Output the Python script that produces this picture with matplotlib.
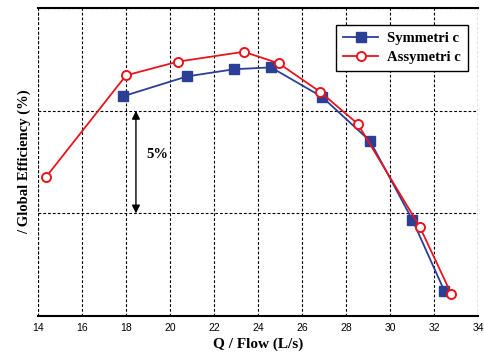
import matplotlib
matplotlib.use("Agg")
import matplotlib.pyplot as plt

# Flow (L/s) and global efficiency (%) for both impeller designs
sym_flow = [17.84, 20.75, 22.90, 24.57, 26.89, 29.07, 31.00, 32.45]
sym_eff = [70.71, 71.68, 72.03, 72.12, 70.68, 68.53, 64.68, 61.22]

asym_flow = [14.34, 17.98, 20.34, 23.33, 24.92, 26.81, 28.51, 31.33, 32.76]
asym_eff = [66.77, 71.73, 72.40, 72.88, 72.32, 70.92, 69.37, 64.35, 61.08]

x_ticks = [14, 16, 18, 20, 22, 24, 26, 28, 30, 32, 34]
y_grid = [60, 65, 70, 75]
span_flow = 18.43
span_low, span_high = 65, 70

serif = ["Liberation Serif", "DejaVu Serif"]
sans = ["Liberation Sans", "DejaVu Sans"]
dash = (0, (2.5, 1.8))

fig = plt.figure(figsize=(4.84, 3.56), dpi=100)
ax = fig.add_axes([0.0795, 0.1124, 0.9091, 0.8643])

ax.set_xlim(14, 34)
ax.set_ylim(60, 75)
ax.set_xticks(x_ticks)
ax.set_yticks(y_grid)
ax.set_yticklabels([])
ax.tick_params(axis="y", length=0)
ax.tick_params(axis="x", length=0, pad=5)
for lab in ax.get_xticklabels():
    lab.set_fontfamily(sans)
    lab.set_fontsize(7.5)

ax.grid(True, linestyle=dash, color="black", linewidth=0.8)
ax.spines["left"].set_visible(False)
ax.spines["right"].set_visible(False)
ax.spines["top"].set_linewidth(1.5)
ax.spines["bottom"].set_linewidth(1.5)
ax.axvline(14, color="black", linestyle=dash, linewidth=0.8)
ax.axvline(34, color="black", linestyle=dash, linewidth=0.8)

ax.plot(sym_flow, sym_eff, color="#2b3f96", linewidth=1.3, marker="s",
        markersize=7, label="Symmetri c", zorder=3)
ax.plot(asym_flow, asym_eff, color="#e8141c", linewidth=1.3, marker="o",
        markersize=6.5, markerfacecolor="white", markeredgewidth=1.4,
        label="Assymetri c", zorder=4)

ax.annotate("", xy=(span_flow, span_low), xytext=(span_flow, span_high),
            arrowprops=dict(arrowstyle="<|-|>", color="black", lw=1.0,
                            mutation_scale=12, shrinkA=0, shrinkB=0))
ax.text(span_flow + 0.45, (span_low + span_high) / 2 + 0.35, "5%",
        fontfamily=serif, fontweight="bold", fontsize=10.5, ha="left", va="center")

leg = ax.legend(loc="upper right", bbox_to_anchor=(0.976, 0.946),
                borderaxespad=0,
                prop=dict(family=serif, weight="bold", size=10.5),
                frameon=True, fancybox=False, edgecolor="black",
                framealpha=1, handlelength=2.4, borderpad=0.5,
                labelspacing=0.35, handletextpad=0.6)
leg.get_frame().set_linewidth(1.0)

ax.set_xlabel("Q / Flow (L/s)", fontfamily=serif, fontweight="bold",
              fontsize=11, labelpad=3)
ax.set_ylabel("/ Global Efficiency (%)", fontfamily=serif, fontweight="bold",
              fontsize=10.5, labelpad=2)

fig.savefig("out.png", dpi=100)
